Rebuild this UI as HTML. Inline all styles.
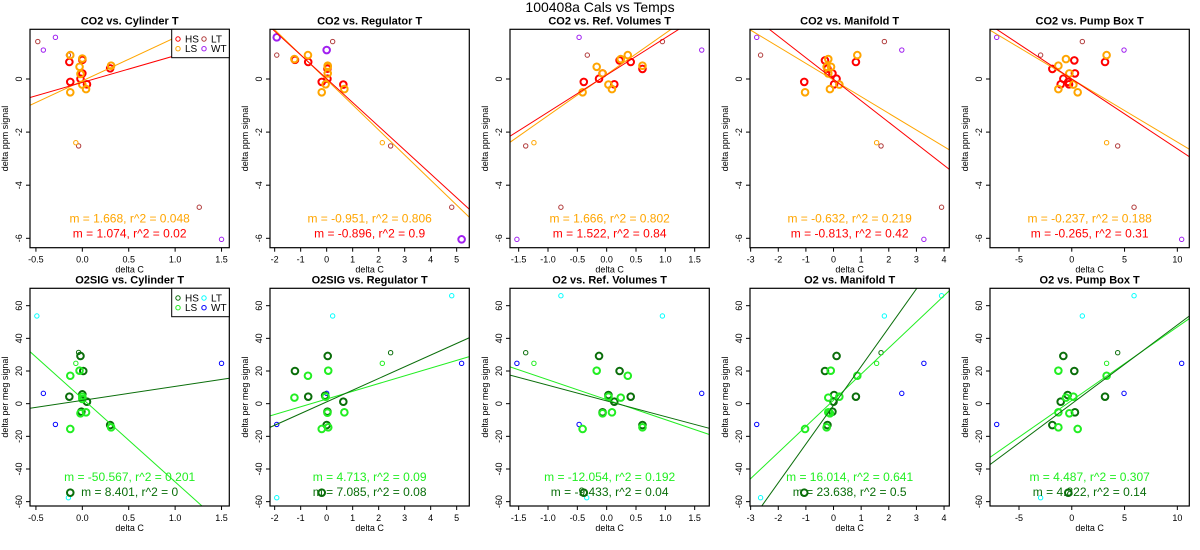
<!DOCTYPE html>
<html><head><meta charset="utf-8"><style>
body{margin:0;background:#fff}
svg{display:block;font-family:"Liberation Sans",sans-serif}
</style></head><body>
<svg id="chart" width="1200" height="550" viewBox="0 0 1200 550" xmlns="http://www.w3.org/2000/svg">
<text x="600" y="12" font-size="14" text-anchor="middle">100408a   Cals vs Temps</text>
</svg>
<script>
// ---- data ----
const topYTicks = [-6, -4, -2, 0];
const botYTicks = [-60, -40, -20, 0, 20, 40, 60];
const cylTicks = [-0.5, 0, 0.5, 1, 1.5];
const cylTickLabels = ["-0.5", "0.0", "0.5", "1.0", "1.5"];
const regTicks = [-2, -1, 0, 1, 2, 3, 4, 5];
const regTickLabels = ["-2", "-1", "0", "1", "2", "3", "4", "5"];
const refTicks = [-1.5, -1, -0.5, 0, 0.5, 1, 1.5];
const refTickLabels = ["-1.5", "-1.0", "-0.5", "0.0", "0.5", "1.0", "1.5"];
const manTicks = [-3, -2, -1, 0, 1, 2, 3, 4];
const manTickLabels = ["-3", "-2", "-1", "0", "1", "2", "3", "4"];
const pumpTicks = [-5, 0, 5, 10];
const pumpTickLabels = ["-5", "0", "5", "10"];

// points: [x, y, colorKey, thick]
const co2CylPts = [[-0.48,1.41,'c',0],[-0.15,0.9,'c',0],[1.26,-4.83,'c',0],[-0.04,-2.52,'c',0],[-0.29,1.57,'d',0],[-0.42,1.09,'d',0],[1.5,-6.04,'d',0],[-0.07,-2.4,'b',0],
[-0.14,0.64,'a',1],[-0.13,-0.11,'a',1],[0,0.72,'a',1],[0,0.21,'a',1],[-0.02,0.01,'a',1],[0.05,-0.2,'a',1],[0.3,0.4,'a',1],
[-0.13,0.9,'b',1],[0,0.77,'b',1],[-0.03,0.46,'b',1],[-0.02,0.19,'b',1],[0,-0.21,'b',1],[0.04,-0.38,'b',1],[-0.13,-0.5,'b',1],[0.31,0.5,'b',1]];
const co2RegPts = [[-1.92,1.57,'d',1],[0,1.09,'d',1],[5.19,-6.04,'d',1],[-1.92,0.9,'c',0],[0.23,1.41,'c',0],[2.46,-2.52,'c',0],[4.81,-4.83,'c',0],[2.14,-2.4,'b',0],
[-1.22,0.72,'a',1],[-0.71,0.64,'a',1],[0.03,0.39,'a',1],[0.03,0.01,'a',1],[-0.19,-0.11,'a',1],[0.64,-0.21,'a',1],
[-1.24,0.75,'b',1],[-0.72,0.9,'b',1],[0.04,0.46,'b',1],[0.04,0.21,'b',1],[-0.04,-0.2,'b',1],[-0.19,-0.5,'b',1],[0.68,-0.38,'b',1],[0.04,0.5,'b',1]];
const co2RefPts = [[-0.47,1.57,'d',0],[1.62,1.09,'d',0],[-1.53,-6.04,'d',0],[-0.33,0.9,'c',0],[0.95,1.41,'c',0],[-1.38,-2.52,'c',0],[-0.78,-4.83,'c',0],[-1.24,-2.4,'b',0],
[-0.39,-0.11,'a',1],[-0.13,0.01,'a',1],[-0.07,0.21,'a',1],[0.13,-0.2,'a',1],[0.22,0.7,'a',1],[0.41,0.64,'a',1],[0.61,0.38,'a',1],
[-0.41,-0.5,'b',1],[-0.17,0.46,'b',1],[-0.07,0.21,'b',1],[0.03,-0.21,'b',1],[0.09,-0.38,'b',1],[0.24,0.75,'b',1],[0.36,0.9,'b',1],[0.61,0.5,'b',1]];
const co2ManPts = [[-2.78,1.57,'d',0],[2.47,1.09,'d',0],[3.27,-6.04,'d',0],[-2.64,0.9,'c',0],[1.84,1.41,'c',0],[1.72,-2.52,'c',0],[3.91,-4.83,'c',0],[1.56,-2.4,'b',0],
[-1.06,-0.11,'a',1],[-0.31,0.7,'a',1],[-0.22,0.39,'a',1],[-0.04,0.21,'a',1],[0.11,0.01,'a',1],[0.02,-0.2,'a',1],[0.81,0.64,'a',1],
[-1.03,-0.5,'b',1],[-0.19,0.75,'b',1],[-0.25,0.46,'b',1],[-0.09,0.46,'b',1],[-0.19,0.21,'b',1],[-0.13,-0.38,'b',1],[0.21,-0.21,'b',1],[0.86,0.9,'b',1]];
const co2PumpPts = [[-7.11,1.57,'d',0],[4.95,1.09,'d',0],[10.41,-6.04,'d',0],[-2.95,0.9,'c',0],[1.0,1.41,'c',0],[4.35,-2.52,'c',0],[5.9,-4.83,'c',0],[3.3,-2.4,'b',0],
[-1.84,0.38,'a',1],[-0.8,0.01,'a',1],[-1.05,-0.2,'a',1],[-0.33,-0.11,'a',1],[-0.26,-0.2,'a',1],[0.24,0.7,'a',1],[0.3,0.21,'a',1],[3.15,0.64,'a',1],
[-1.27,0.5,'b',1],[-0.55,0.75,'b',1],[-0.23,0.21,'b',1],[0.15,-0.21,'b',1],[-1.27,-0.38,'b',1],[0.56,-0.5,'b',1],[3.3,0.9,'b',1]];

const o2CylPts = [[-0.49,53.7,'c',0],[-0.15,-57.6,'c',0],[-0.42,6.3,'d',0],[-0.29,-12.7,'d',0],[1.5,24.7,'d',0],[-0.04,31.4,'a',0],[-0.07,24.7,'b',0],
[-0.02,29.2,'a',1],[0.01,20,'a',1],[-0.14,4.3,'a',1],[0,5.7,'a',1],[0.05,1.2,'a',1],[-0.01,-4.9,'a',1],[0.3,-13.1,'a',1],[-0.13,-54.5,'a',1],
[-0.13,17.1,'b',1],[-0.03,20.2,'b',1],[0,4.3,'b',1],[0.04,-5.3,'b',1],[-0.02,-5.9,'b',1],[-0.13,-15.5,'b',1],[0.31,-14.5,'b',1],[0,2.9,'b',1]];
const o2RegPts = [[0.23,53.7,'c',0],[4.81,66.1,'c',0],[-1.92,-57.6,'c',0],[-1.92,-12.7,'d',0],[0,6.3,'d',0],[5.19,24.7,'d',0],[2.46,31.2,'a',0],[2.14,24.7,'b',0],
[0.04,29.2,'a',1],[-1.22,20,'a',1],[-0.71,4.3,'a',1],[-0.06,4.9,'a',1],[0.64,1.2,'a',1],[0.03,-4.9,'a',1],[0,-13.1,'a',1],[-0.19,-54.5,'a',1],
[0.06,20.2,'b',1],[-0.72,17.1,'b',1],[-1.24,3.7,'b',1],[-0.04,4.3,'b',1],[0.03,-5.5,'b',1],[0.68,-5.3,'b',1],[-0.19,-15.5,'b',1],[0.06,-14.5,'b',1]];
const o2RefPts = [[-0.78,66.1,'c',0],[0.95,53.7,'c',0],[-0.34,-57.6,'c',0],[-1.53,24.7,'d',0],[-0.47,-12.7,'d',0],[1.62,6.3,'d',0],[-1.38,31.2,'a',0],[-1.24,24.7,'b',0],
[-0.13,29.2,'a',1],[0.22,20,'a',1],[0.41,4.3,'a',1],[0.03,5.3,'a',1],[0.13,1.2,'a',1],[-0.07,-5.3,'a',1],[0.61,-13.1,'a',1],[-0.39,-54.5,'a',1],
[-0.17,20.2,'b',1],[0.36,17.1,'b',1],[0.24,3.7,'b',1],[0.03,4.3,'b',1],[0.09,-5.3,'b',1],[-0.07,-5.9,'b',1],[-0.41,-15.5,'b',1],[0.61,-14.5,'b',1]];
const o2ManPts = [[-2.64,-57.6,'c',0],[1.84,53.7,'c',0],[3.91,66.1,'c',0],[-2.78,-12.7,'d',0],[2.47,6.3,'d',0],[3.27,24.7,'d',0],[1.72,31.2,'a',0],[1.56,24.7,'b',0],
[0.11,29.2,'a',1],[-0.31,20,'a',1],[0.81,4.3,'a',1],[0.02,5.3,'a',1],[0,1.2,'a',1],[-0.04,-4.9,'a',1],[-0.22,-13.1,'a',1],[-1.06,-54.5,'a',1],
[-0.1,20.2,'b',1],[0.86,17.1,'b',1],[-0.19,3.7,'b',1],[0.21,4.3,'b',1],[-0.19,-5.3,'b',1],[-0.13,-5.9,'b',1],[-1.03,-15.5,'b',1],[-0.25,-14.5,'b',1]];
const o2PumpPts = [[1.0,53.7,'c',0],[5.9,66.1,'c',0],[-2.95,-57.6,'c',0],[-7.11,-12.7,'d',0],[4.95,6.3,'d',0],[10.41,24.7,'d',0],[4.35,31.2,'a',0],[3.3,24.7,'b',0],
[-0.8,29.2,'a',1],[0.24,20,'a',1],[3.15,4.3,'a',1],[-0.39,5.3,'a',1],[-1.05,1.2,'a',1],[0.3,-5.3,'a',1],[-1.84,-13.1,'a',1],[-0.33,-54.5,'a',1],
[-1.27,20.2,'b',1],[3.3,17.1,'b',1],[-0.55,3.7,'b',1],[0.15,4.3,'b',1],[-1.27,-5.3,'b',1],[-0.23,-5.9,'b',1],[0.56,-15.5,'b',1],[-1.27,-14.5,'b',1]];

// fit lines: [slope, intercept] for series a (HS) and b (LS)
const co2CylFitA = [1.01, -0.13],  co2CylFitB = [1.63, -0.07];
const co2RegFitA = [-0.896, 0.01], co2RegFitB = [-0.944, -0.03];
const co2RefFitA = [1.40, 0.15],   co2RefFitB = [1.55, 0.17];
const co2ManFitA = [-0.81, -0.01], co2ManFitB = [-0.627, -0.04];
const co2PumpFitA = [-0.263, 0.0], co2PumpFitB = [-0.2376, 0.0];
const o2CylFitA = [8.56, 2.0],     o2CylFitB = [-51, 3.1];
const o2RegFitA = [7.16, 1.1],     o2RegFitB = [4.73, 2.85];
const o2RefFitA = [-9.6, 1.7],     o2RefFitB = [-12.2, 2.45];
const o2ManFitA = [23.75, -0.96],  o2ManFitB = [16.0, 2.1];
const o2PumpFitA = [4.82, 0.0],    o2PumpFitB = [4.50, 2.0];

const statTextsTop = [["m = 1.668, r^2 = 0.048","m = 1.074, r^2 = 0.02"],["m = -0.951, r^2 = 0.806","m = -0.896, r^2 = 0.9"],["m = 1.666, r^2 = 0.802","m = 1.522, r^2 = 0.84"],["m = -0.632, r^2 = 0.219","m = -0.813, r^2 = 0.42"],["m = -0.237, r^2 = 0.188","m = -0.265, r^2 = 0.31"]];
const statTextsBot = [["m = -50.567, r^2 = 0.201","m = 8.401, r^2 = 0"],["m = 4.713, r^2 = 0.09","m = 7.085, r^2 = 0.08"],["m = -12.054, r^2 = 0.192","m = -9.433, r^2 = 0.04"],["m = 16.014, r^2 = 0.641","m = 23.638, r^2 = 0.5"],["m = 4.487, r^2 = 0.307","m = 4.822, r^2 = 0.14"]];
const titlesTop = ["CO2 vs. Cylinder T","CO2 vs. Regulator T","CO2 vs. Ref. Volumes T","CO2 vs. Manifold T","CO2 vs. Pump Box T"];
const titlesBot = ["O2SIG vs. Cylinder T","O2SIG vs. Regulator T","O2 vs. Ref. Volumes T","O2 vs. Manifold T","O2 vs. Pump Box T"];

// ---- axes ----
const xAxes = [{o:82.33,s:92.8},{o:326.67,s:26},{o:606.67,s:58.67},{o:833.53,s:27.63},{o:1071.77,s:10.557}];
const xTickSets = [[cylTicks,cylTickLabels],[regTicks,regTickLabels],[refTicks,refTickLabels],[manTicks,manTickLabels],[pumpTicks,pumpTickLabels]];
const rows = [
 {top:29.3,bot:247.7,yo:79,ys:26.55,yt:topYTicks,ylab:"delta ppm signal",pts:[co2CylPts,co2RegPts,co2RefPts,co2ManPts,co2PumpPts],
  fa:[co2CylFitA,co2RegFitA,co2RefFitA,co2ManFitA,co2PumpFitA],fb:[co2CylFitB,co2RegFitB,co2RefFitB,co2ManFitB,co2PumpFitB],
  col:{a:"#ff0000",b:"#ffa500",c:"#b03a3a",d:"#a020f0"},titles:titlesTop,stats:statTextsTop,legend:["HS","LS","LT","WT"]},
 {top:288.3,bot:506,yo:403.67,ys:1.633,yt:botYTicks,ylab:"delta per meg signal",pts:[o2CylPts,o2RegPts,o2RefPts,o2ManPts,o2PumpPts],
  fa:[o2CylFitA,o2RegFitA,o2RefFitA,o2ManFitA,o2PumpFitA],fb:[o2CylFitB,o2RegFitB,o2RefFitB,o2ManFitB,o2PumpFitB],
  col:{a:"#0a6e0a",b:"#22ee22",c:"#00ffff",d:"#0000ff"},titles:titlesBot,stats:statTextsBot,legend:["HS","LS","LT","WT"]}
];
const NS="http://www.w3.org/2000/svg";
const svg=document.getElementById('chart');
function mk(tag,attrs,parent,txt){const e=document.createElementNS(NS,tag);for(const k in attrs)e.setAttribute(k,attrs[k]);if(txt!==undefined)e.textContent=txt;(parent||svg).appendChild(e);return e;}
const defs=mk('defs',{});
rows.forEach((R,ri)=>{
 for(let c=0;c<5;c++){
  const L=30+240*c, Rt=229.3+240*c, ax=xAxes[c];
  const X=v=>ax.o+v*ax.s, Y=v=>R.yo-v*R.ys;
  const g=mk('g',{});
  
  
  const cid='clip'+ri+c;
  const cp=mk('clipPath',{id:cid},defs); mk('rect',{x:L,y:R.top,width:Rt-L,height:R.bot-R.top},cp);
  const t=mk('text',{x:(L+Rt)/2,y:R.top-5,'font-size':11,'font-weight':'bold','text-anchor':'middle'},g,R.titles[c]);
  
  
  R.yt.forEach(v=>{const y=Y(v);mk('line',{x1:L-4,x2:L,y1:y,y2:y,stroke:'#000'},g);
   const tl=mk('text',{x:0,y:0,'font-size':9,'text-anchor':'middle',transform:`translate(${L-8},${y}) rotate(-90)`},g,String(v));
   
   });
  const yl=mk('text',{x:0,y:0,'font-size':9,'text-anchor':'middle',transform:`translate(${L-22},${(R.top+R.bot)/2}) rotate(-90)`},g,R.ylab);
  
  
  const [tv,tlab]=xTickSets[c];
  tv.forEach((v,i)=>{const x=X(v);mk('line',{x1:x,x2:x,y1:R.bot,y2:R.bot+4,stroke:'#000'},g);
   const tl=mk('text',{x:x,y:R.bot+15,'font-size':9,'text-anchor':'middle'},g,tlab[i]);
   
   });
  const xl=mk('text',{x:(L+Rt)/2,y:R.bot+25,'font-size':9,'text-anchor':'middle'},g,'delta C');
  
  
  const pg=mk('g',{'clip-path':`url(#${cid})`},g);
  R.pts[c].forEach(p=>{const th=p[3];
   const pt=mk('circle',{cx:X(p[0]),cy:Y(p[1]),r:th?3.3:2.2,fill:'none',stroke:R.col[p[2]],'stroke-width':th?2:1},pg);
   
   });
  [[R.fb[c],R.col.b],[R.fa[c],R.col.a]].forEach(([f,col])=>{
   const x0=(L-ax.o)/ax.s, x1=(Rt-ax.o)/ax.s;
   const ln=mk('line',{x1:X(x0),y1:Y(f[0]*x0+f[1]),x2:X(x1),y2:Y(f[0]*x1+f[1]),stroke:col,'stroke-width':1},pg);
   
   });
  mk('rect',{x:L,y:R.top,width:Rt-L,height:R.bot-R.top,fill:'none',stroke:'#000','stroke-width':1.2},g);
  const ty=R.bot-25;
  const s1=mk('text',{x:(L+Rt)/2,y:ty,'font-size':12,'text-anchor':'middle',fill:R.col.b},g,R.stats[c][0]);
  
  
  const s2=mk('text',{x:(L+Rt)/2,y:ty+15,'font-size':12,'text-anchor':'middle',fill:R.col.a},g,R.stats[c][1]);
  
  
  if(c===0){
   const lg=mk('g',{},g);
   
   
   mk('rect',{x:171.7,y:R.top,width:57.6,height:28.4,fill:'#fff',stroke:'#000','stroke-width':1},lg);
   const keys=['a','b','c','d'];
   R.legend.forEach((name,i)=>{const cx=i<2?178:204, cy=R.top+(i%2?19.4:9.7);
    mk('circle',{cx:cx,cy:cy,r:2.2,fill:'none',stroke:R.col[keys[i]],'stroke-width':1},lg);
    const le=mk('text',{x:cx+7,y:cy+3.5,'font-size':10},lg,name);
    
    });
  }
 }
});
</script>
</body></html>
